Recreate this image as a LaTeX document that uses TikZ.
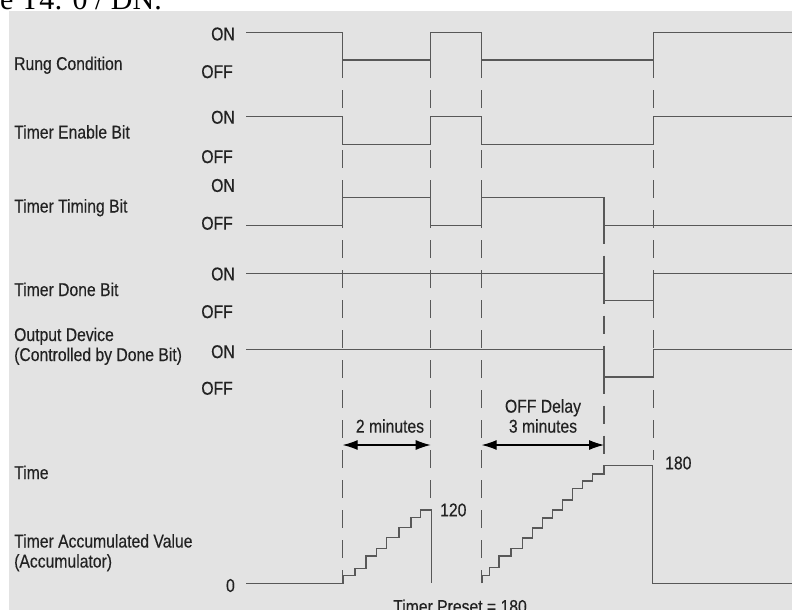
\documentclass[tikz,border=0pt]{standalone}
\usepackage{fontspec}
\setsansfont{Liberation Sans}[FakeStretch=0.85,FakeBold=0.3]
\newfontfamily\headserif{Liberation Serif}
\usepackage{tikz}
\usetikzlibrary{arrows.meta}
\definecolor{panelgray}{RGB}{227,227,227}
\definecolor{traceline}{RGB}{88,88,88}
\definecolor{labeltext}{RGB}{34,34,34}
\newcommand{\rowtitle}[3]{\node[lbl, anchor=base west, align=left] (#1) at (14,#2) {#3};}
\newcommand{\levels}[3]{%
  \node[lbl, anchor=east] (#1on) at (235,#2) {ON};
  \node[lbl, anchor=east] (#1off) at (233,#3) {OFF};}
\newcommand{\enablewave}[2]{%
  \draw[trace] (246,#1) -| (342.7,#2) -| (430.7,#1) -| (481.7,#2) -| (653.3,#1) -- (792,#1);}

\begin{document}
\begin{tikzpicture}[font=\sffamily\fontsize{18.5}{20}\selectfont, x=1pt, y=-1pt,
    trace/.style={draw=traceline, line width=1.3pt},
    guide/.style={draw=traceline, line width=1.1pt, dash pattern=on 18pt off 12pt},
    span/.style={draw=black, line width=1.1pt, {Latex[length=15pt,width=10pt]}-{Latex[length=15pt,width=10pt]}},
    lbl/.style={text=labeltext, inner sep=0pt}]
  \useasboundingbox (0,0) rectangle (792,610);
  \fill[white] (0,0) rectangle (792,610);
  \fill[panelgray] (9,11) rectangle (792,610);
  \node[anchor=base east, inner sep=0pt, font=\headserif\fontsize{30}{30}\selectfont] (headtail) at (162,10) {e T4: 0 / DN.};

  \rowtitle{rung}{70}{Rung Condition}
  \rowtitle{enable}{138.5}{Timer Enable Bit}
  \rowtitle{timing}{212.5}{Timer Timing Bit}
  \rowtitle{done}{296}{Timer Done Bit}
  \rowtitle{output}{361}{Output Device\\(Controlled by Done Bit)}
  \rowtitle{time}{479}{Time}
  \rowtitle{accum}{567.5}{Timer Accumulated Value\\(Accumulator)}

  \levels{rung}{34}{71.7}
  \levels{enable}{117.3}{156.7}
  \levels{timing}{185.5}{223.3}
  \levels{done}{274}{311.7}
  \levels{output}{351.7}{388.3}
  \node[lbl, anchor=east] (zero) at (235,585.5) {0};

  \draw[guide] (342.7,60) -- (342.7,583.3);
  \draw[guide] (430.7,60) -- (430.7,510);
  \draw[guide] (481.7,60) -- (481.7,583.3);
  \draw[guide] (653.3,60) -- (653.3,460);
  \draw[guide] (604,225.7) -- (604,465.7);

  \enablewave{32.7}{60}
  \enablewave{116.7}{144.3}
  \draw[trace] (246,225.7) -| (342.7,197.3) -| (430.7,225.7) -| (481.7,197.3) -| (604,225.7) -- (792,225.7);
  \draw[trace] (246,273.3) -| (604,300.7) -| (653.3,273.3) -- (792,273.3);
  \draw[trace] (246,349.3) -| (604,377) -| (653.3,349.3) -- (792,349.3);

  \draw[trace] (246,583.3) -| (343,575.3) -| (355,568.3) -| (366,556) -| (376.7,548.7) -| (386.7,537.7)
    -| (399,527.7) -| (411,517.7) -| (420.7,510) -| (431.3,583.3);
  \draw[trace] (482,583.3) |- (489.3,575.3) |- (499,567.7) |- (511,556) |- (522.7,548.7) |- (532.7,538)
    |- (542.7,528) |- (552.7,518) |- (562.7,510) |- (572.3,500) |- (582.3,488.3) |- (592.3,481)
    |- (604,474) |- (652.7,465.7) -- (652.7,583.3) -- (792,583.3);

  \coordinate (runstart) at (342.7,445);
  \coordinate (runstop) at (430.7,445);
  \coordinate (delaystart) at (481.7,445);
  \coordinate (delaystop) at (604,445);
  \draw[span] (runstart) -- (runstop);
  \draw[span] (delaystart) -- (delaystop);
  \node[lbl, anchor=south] (runtime) at (390,433) {2 minutes};
  \node[lbl, anchor=south, align=center] (delaytime) at (543,433) {OFF Delay\\3 minutes};

  \node[lbl, anchor=west] (accmid) at (440,510) {120};
  \node[lbl, anchor=west] (acctop) at (665,463) {180};
  \node[lbl, anchor=north] (preset) at (460,599.3) {Timer Preset = 180};
\end{tikzpicture}
\end{document}
